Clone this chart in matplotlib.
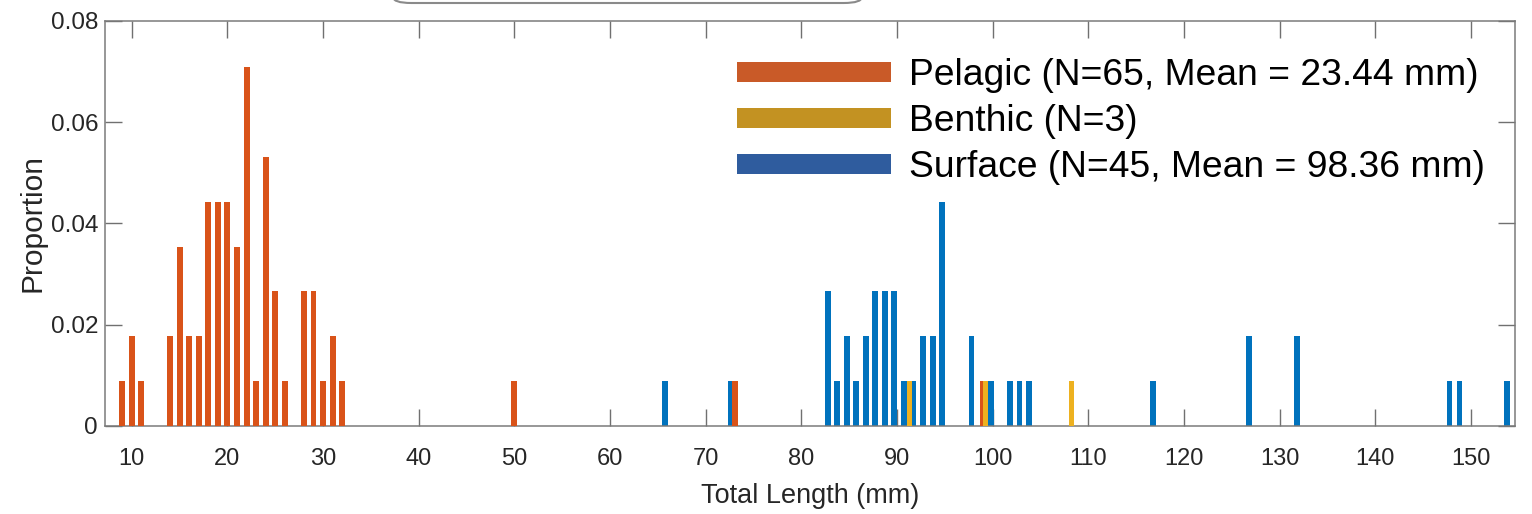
import numpy as np
import matplotlib
matplotlib.use("Agg")
import matplotlib.pyplot as plt
from matplotlib.patches import Patch, FancyBboxPatch

# counts per length bin (N total = 113), shown as proportions
n_total = 113

pelagic_x = [9, 10, 11, 14, 15, 16, 17, 18, 19, 20, 21, 22, 23, 24, 25, 26,
             28, 29, 30, 31, 32, 50, 73.07, 98.95]
pelagic_n = [1, 2, 1, 2, 4, 2, 2, 5, 5, 5, 4, 8, 1, 6, 3, 1,
             3, 3, 1, 2, 1, 1, 1, 1]

benthic_x = [91.28, 99.2, 108.2]
benthic_n = [1, 1, 1]

surface_x = [65.75, 72.68, 82.75, 83.72, 84.72, 85.72, 86.72, 87.72, 88.72,
             89.72, 90.72, 91.72, 92.72, 93.72, 94.72, 97.78, 99.8, 101.8,
             102.8, 103.8, 116.8, 126.8, 131.8, 147.75, 148.8, 153.8]
surface_n = [1, 1, 3, 1, 2, 1, 2, 3, 3, 3, 1, 1, 2, 2, 5, 2, 1, 1,
             1, 1, 1, 2, 2, 1, 1, 1]

labels = ["Pelagic (N=65, Mean = 23.44 mm)",
          "Benthic (N=3)",
          "Surface (N=45, Mean = 98.36 mm)"]

bar_cols = ["#D95319", "#EDB120", "#0072BD"]
leg_cols = ["#C95A28", "#C39222", "#2F5C9E"]

xticks = list(range(10, 151, 10))
yticks = [0, 0.02, 0.04, 0.06, 0.08]
ytick_labels = ["0", "0.02", "0.04", "0.06", "0.08"]

font = ["Liberation Sans", "DejaVu Sans"]
txt = "#262626"

fig = plt.figure(figsize=(15.32, 5.14), dpi=100)
ax = fig.add_axes([105 / 1532, 1 - 426 / 514, (1515 - 105) / 1532, (426 - 20.7) / 514])

w = 0.62
ax.bar(surface_x, np.array(surface_n) / n_total, width=w, color=bar_cols[2], linewidth=0, zorder=2)
ax.bar(pelagic_x, np.array(pelagic_n) / n_total, width=w, color=bar_cols[0], linewidth=0, zorder=3)
ax.bar(benthic_x, np.array(benthic_n) / n_total, width=0.52, color=bar_cols[1], linewidth=0, zorder=4)

ax.set_xlim(7.2, 154.6)
ax.set_ylim(0, 0.08)
ax.set_xticks(xticks)
ax.set_xticklabels([str(t) for t in xticks], family=font, fontsize=17, color=txt)
ax.set_yticks(yticks)
ax.set_yticklabels(ytick_labels, family=font, fontsize=17.5, color=txt)
ax.tick_params(direction="in", length=12, width=1, color="#707070", top=True, right=True)
ax.tick_params(axis="x", pad=16)
ax.tick_params(axis="y", pad=5)
for s in ax.spines.values():
    s.set_color("#7a7a7a")
    s.set_linewidth(1.1)

ax.set_xlabel("Total Length (mm)", family=font, fontsize=19.5, color=txt, labelpad=9)
ax.set_ylabel("Proportion", family=font, fontsize=21.5, color=txt, labelpad=3)

handles = [Patch(facecolor=c, edgecolor="none") for c in leg_cols]
ax.legend(handles, labels, loc="upper left", bbox_to_anchor=(737 / 1532, 1 - 58 / 514),
          bbox_transform=fig.transFigure, frameon=False, prop={"family": font, "size": 26.8},
          handlelength=4.15, handleheight=0.45, handletextpad=0.48, labelspacing=0.3,
          borderpad=0, borderaxespad=0)

# cut-off rounded box at the very top of the picture
box = FancyBboxPatch((393 / 1532, 1 - 3 / 514), (862 - 393) / 1532, 0.1,
                     boxstyle="round,pad=0,rounding_size=0.012", transform=fig.transFigure,
                     facecolor="white", edgecolor="#8a8a8a", linewidth=1.5, clip_on=False)
fig.patches.append(box)

fig.savefig("out.png", dpi=100)
